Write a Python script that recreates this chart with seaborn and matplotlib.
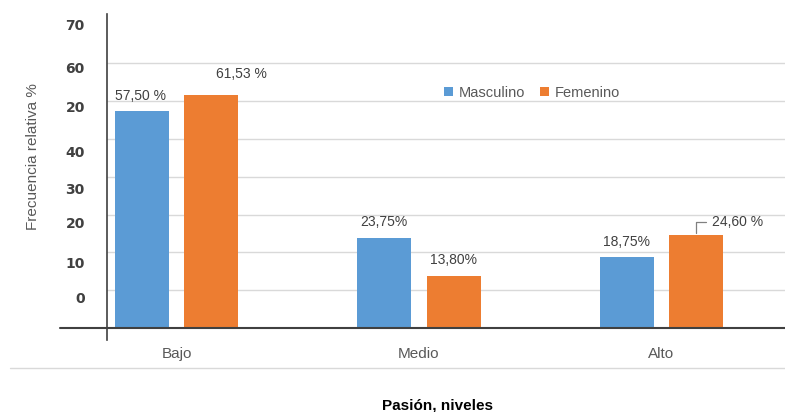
import matplotlib
matplotlib.use("Agg")
import matplotlib.pyplot as plt
import seaborn as sns
import pandas as pd
from matplotlib.lines import Line2D
from matplotlib.patches import Patch

# ---- data ----
categories = ["Bajo", "Medio", "Alto"]
series_names = ["Masculino", "Femenino"]
masculino = [57.50, 23.75, 18.75]
femenino = [61.53, 13.80, 24.60]
masc_labels = ["57,50 %", "23,75%", "18,75%"]
fem_labels = ["61,53 %", "13,80%", "24,60 %"]
ytick_values = [8.2, 17.2, 28.0, 37.0, 46.6, 58.5, 68.8, 80.2]
ytick_labels = ["0", "10", "20", "30", "40", "20", "60", "70"]
grid_values = [10, 20, 30, 40, 50, 60, 70]
x_title = "Pasión, niveles"
y_title = "Frecuencia relativa %"

colors = ["#5B9BD5", "#ED7D31"]

df = pd.DataFrame({
    "cat": categories * 2,
    "serie": [series_names[0]] * 3 + [series_names[1]] * 3,
    "val": masculino + femenino,
})

sns.set_theme(style="white")
plt.rcParams["font.family"] = ["Liberation Sans", "DejaVu Sans"]

W, H = 785, 412
fig = plt.figure(figsize=(W / 100, H / 100), dpi=100)
ax = fig.add_axes([107 / W, 1 - 340 / H, (W - 107) / W, (340 - 14) / H])

for g in grid_values:
    ax.axhline(g, color="#D9D9D9", lw=1, zorder=0)

sns.barplot(data=df, x="cat", y="val", hue="serie", order=categories,
            hue_order=series_names, palette=colors, saturation=1, width=0.573, gap=0.22,
            linewidth=0, ax=ax, legend=False, zorder=2)

ax.set_xlim(-0.287, 2.51)
ax.set_ylim(-3.17, 83.07)

# baseline
ax.axhline(0, xmin=-(107 - 60) / (W - 107), xmax=1, color="#404040", lw=1.5,
           clip_on=False, zorder=3)

for s in ["top", "right", "bottom"]:
    ax.spines[s].set_visible(False)
ax.spines["left"].set_color("#404040")
ax.spines["left"].set_linewidth(1.2)

ax.set_yticks(ytick_values)
ax.set_yticklabels(ytick_labels, fontdict={"family": "DejaVu Sans", "weight": "bold",
                                            "size": 10, "color": "#404040"})
ax.tick_params(axis="y", length=0, pad=16)
ax.tick_params(axis="x", length=0, pad=5, labelsize=11, labelcolor="#595959")
ax.set_xlabel("")
ax.set_ylabel("")

# data labels
offsets_m = [(-1, 15), (0, 16), (0, 15)]
offsets_f = [(30, 21), (0, 16), (41, 13)]
m_bars = ax.patches[0:3]
f_bars = ax.patches[3:6]
for bars, labels, offs in [(m_bars, masc_labels, offsets_m), (f_bars, fem_labels, offsets_f)]:
    for b, lab, (dx, dy) in zip(bars, labels, offs):
        cx = b.get_x() + b.get_width() / 2
        top = b.get_height()
        ax.annotate(lab, xy=(cx, top), xytext=(dx, dy), textcoords="offset pixels",
                    ha="center", va="center", fontsize=10, color="#404040")

# leader line for last label
b = f_bars[2]
cx = b.get_x() + b.get_width() / 2
top = b.get_height()
ax.plot([cx, cx, cx + 10 / 242.5], [top + 0.5, top + 13 / 3.78, top + 13 / 3.78],
        color="#808080", lw=0.9, zorder=3)

# legend
handles = [Patch(facecolor=c, edgecolor="none", label=n) for c, n in zip(colors, series_names)]
fig.legend(handles=handles, loc="center", bbox_to_anchor=(532 / W, 1 - 93 / H),
           ncol=2, frameon=False, handlelength=0.6, handleheight=0.6,
           handletextpad=0.4, columnspacing=1.0, fontsize=10.5, labelcolor="#595959")

# titles
fig.text(33 / W, 1 - 157 / H, y_title, rotation=90, ha="center", va="center",
         fontsize=11, color="#595959")
fig.text(437 / W, 1 - 405 / H, x_title, ha="center", va="center",
         fontsize=11, fontweight="bold", color="black")

# separator line
fig.add_artist(Line2D([10 / W, 1], [1 - 368 / H, 1 - 368 / H], color="#D9D9D9", lw=1))

fig.savefig("out.png", dpi=100)
